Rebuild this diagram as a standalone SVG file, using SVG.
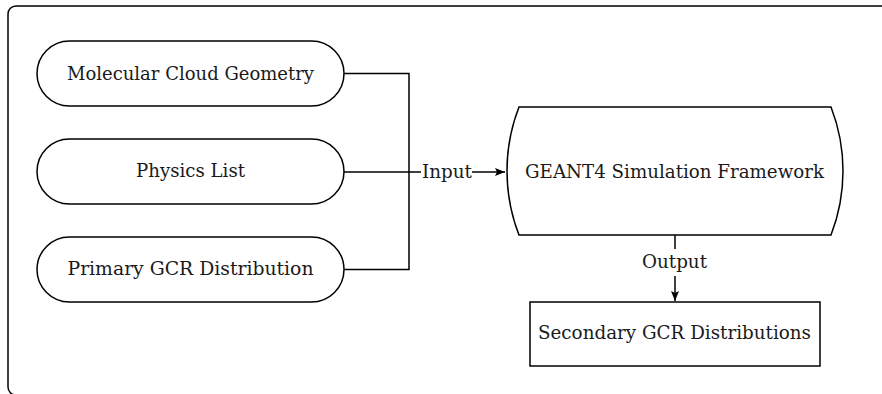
<svg xmlns="http://www.w3.org/2000/svg" width="882" height="394" viewBox="0 0 882 394">
<style>
.s{fill:#fff;stroke:#000;stroke-width:1.5}
.t{font-family:"DejaVu Serif",serif;font-size:18.5px;fill:#1a1a1a;text-anchor:middle}
.c{fill:none;stroke:#000;stroke-width:1.5}
</style>
<defs>
<marker id="ah" viewBox="0 0 10 8" refX="10" refY="4" markerWidth="11" markerHeight="8" markerUnits="userSpaceOnUse" orient="auto">
<path d="M0,0 L10,4 L0,8 L2,4 Z" fill="#000"/>
</marker>
</defs>
<rect x="8" y="6" width="900" height="389" rx="8" fill="#fff" stroke="#000" stroke-width="1.5"/>
<g id="connectors">
<path class="c" d="M344 73.5 H409 V269.5 H344"/>
<path class="c" d="M344 172 H421"/>
<path class="c" d="M472 172 H505" marker-end="url(#ah)"/>
<text class="t" x="447" y="178" textLength="50" lengthAdjust="spacingAndGlyphs">Input</text>
<path class="c" d="M675 235 V249"/>
<path class="c" d="M675 276 V301" marker-end="url(#ah)"/>
<text class="t" x="674.5" y="268" textLength="65" lengthAdjust="spacingAndGlyphs">Output</text>
</g>
<g id="molecular">
<rect class="s" x="37" y="41" width="307" height="65" rx="32.5"/>
<text class="t" x="190.5" y="80" textLength="247" lengthAdjust="spacingAndGlyphs">Molecular Cloud Geometry</text>
</g>
<g id="physics">
<rect class="s" x="37" y="139" width="307" height="65" rx="32.5"/>
<text class="t" x="190.5" y="177" textLength="109" lengthAdjust="spacingAndGlyphs">Physics List</text>
</g>
<g id="primary">
<rect class="s" x="37" y="237" width="307" height="65" rx="32.5"/>
<text class="t" x="190.5" y="275" textLength="246" lengthAdjust="spacingAndGlyphs">Primary GCR Distribution</text>
</g>
<g id="geant4">
<path class="s" d="M519 107 H831 A176.7 176.7 0 0 1 831 235 H519 A176.7 176.7 0 0 1 519 107 Z"/>
<text class="t" x="674.5" y="178" textLength="299" lengthAdjust="spacingAndGlyphs">GEANT4 Simulation Framework</text>
</g>
<g id="secondary">
<rect class="s" x="530" y="302" width="290" height="64"/>
<text class="t" x="674.5" y="339" textLength="273" lengthAdjust="spacingAndGlyphs">Secondary GCR Distributions</text>
</g>
</svg>
